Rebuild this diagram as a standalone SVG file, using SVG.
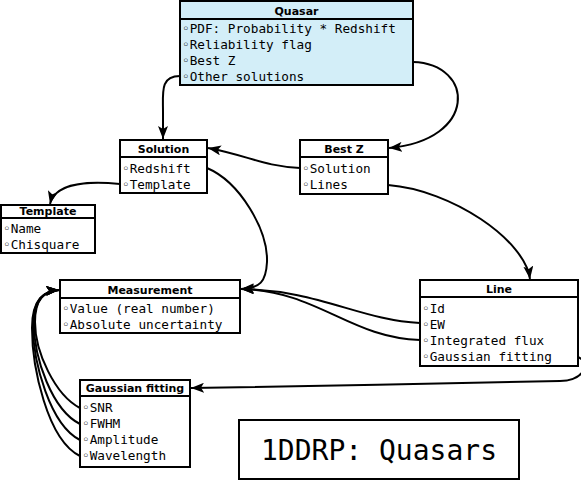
<svg xmlns="http://www.w3.org/2000/svg" width="581" height="482" viewBox="0 0 581 482">
<style>
.box{fill:#ffffff;stroke:#000;stroke-width:2}
.q{fill:#d3eef8}
.hd{font-family:"DejaVu Sans",sans-serif;font-weight:bold;font-size:11px;text-anchor:middle}
.rw{font-family:"DejaVu Sans Mono",monospace;font-size:12.7px}
.big{font-family:"DejaVu Sans Mono",monospace;font-size:28px;text-anchor:middle}
.sep{stroke:#000;stroke-width:2}
.c{fill:none;stroke:#000;stroke-width:2;marker-end:url(#ah)}
</style>
<defs>
<marker id="ah" markerWidth="14" markerHeight="10" refX="13" refY="5" orient="auto" markerUnits="userSpaceOnUse">
<path d="M0,0 L13,5 L0,10 L3,5 z" fill="#000"/>
</marker>
</defs>
<rect width="581" height="482" fill="#fff"/>
<g id="connectors">
<path class="c" d="M180,76 C160,76 163,92 163,112 L163,139"/>
<path class="c" d="M413,62 C475,64 478,140 389,148"/>
<path class="c" d="M300,168 C262,166 250,156 208,148"/>
<path class="c" d="M120,184 C80,180 54,186 50,204"/>
<path class="c" d="M207,168 C240,182 268,230 267,262 C266,282 260,288 241,289"/>
<path class="c" d="M388,185 C452,190 525,240 530,279"/>
<path class="c" d="M420,323 C360,320 318,290 241,289"/>
<path class="c" d="M420,340 C350,338 318,291 241,289"/>
<path class="c" d="M578,357 C590,362 586,380 560,381 C450,384 300,386 191,388"/>
<path class="c" d="M80,408 C55,395 35,352 35,322 C35,299 44,291 59,290"/>
<path class="c" d="M80,424 C52,410 34,358 34,324 C34,299 44,291 59,290"/>
<path class="c" d="M80,440 C50,425 33,362 33,326 C33,299 44,291 59,290"/>
<path class="c" d="M80,456 C47,440 32,366 32,328 C32,299 44,291 59,290"/>
</g>
<g id="quasar">
<rect class="box q" x="180" y="1" width="233" height="84"/>
<line class="sep" x1="180" y1="19" x2="413" y2="19"/>
<text class="hd" x="296.5" y="15">Quasar</text>
<text class="rw" x="182" y="33">◦PDF: Probability * Redshift</text>
<text class="rw" x="182" y="49">◦Reliability flag</text>
<text class="rw" x="182" y="65">◦Best Z</text>
<text class="rw" x="182" y="81">◦Other solutions</text>
</g>
<g id="solution">
<rect class="box" x="120" y="140" width="87" height="53"/>
<line class="sep" x1="120" y1="157" x2="207" y2="157"/>
<text class="hd" x="163.5" y="153">Solution</text>
<text class="rw" x="122" y="173">◦Redshift</text>
<text class="rw" x="122" y="189">◦Template</text>
</g>
<g id="bestz">
<rect class="box" x="300" y="140" width="88" height="54"/>
<line class="sep" x1="300" y1="157" x2="388" y2="157"/>
<text class="hd" x="344" y="153">Best Z</text>
<text class="rw" x="302" y="173">◦Solution</text>
<text class="rw" x="302" y="189">◦Lines</text>
</g>
<g id="template">
<rect class="box" x="1" y="205" width="94" height="48"/>
<line class="sep" x1="1" y1="218" x2="95" y2="218"/>
<text class="hd" x="48" y="215">Template</text>
<text class="rw" x="3" y="233">◦Name</text>
<text class="rw" x="3" y="249">◦Chisquare</text>
</g>
<g id="measurement">
<rect class="box" x="60" y="280" width="180" height="53"/>
<line class="sep" x1="60" y1="298" x2="240" y2="298"/>
<text class="hd" x="150" y="294">Measurement</text>
<text class="rw" x="62" y="313">◦Value (real number)</text>
<text class="rw" x="62" y="329">◦Absolute uncertainty</text>
</g>
<g id="line">
<rect class="box" x="420" y="280" width="158" height="86"/>
<line class="sep" x1="420" y1="297" x2="578" y2="297"/>
<text class="hd" x="499" y="293">Line</text>
<text class="rw" x="422" y="313">◦Id</text>
<text class="rw" x="422" y="329">◦EW</text>
<text class="rw" x="422" y="345">◦Integrated flux</text>
<text class="rw" x="422" y="361">◦Gaussian fitting</text>
</g>
<g id="gaussian">
<rect class="box" x="80" y="380" width="110" height="87"/>
<line class="sep" x1="80" y1="396" x2="190" y2="396"/>
<text class="hd" x="135" y="392">Gaussian fitting</text>
<text class="rw" x="82" y="412">◦SNR</text>
<text class="rw" x="82" y="428">◦FWHM</text>
<text class="rw" x="82" y="444">◦Amplitude</text>
<text class="rw" x="82" y="460">◦Wavelength</text>
</g>
<g id="title">
<rect class="box" x="239" y="420" width="280" height="59"/>
<text class="big" x="379" y="460">1DDRP: Quasars</text>
</g>
</svg>
